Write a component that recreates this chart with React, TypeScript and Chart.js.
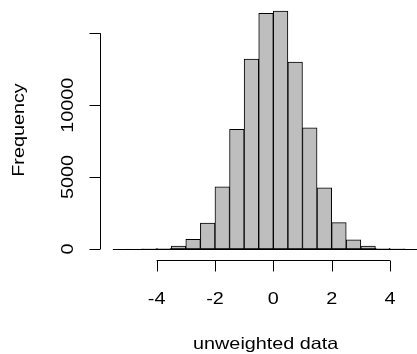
import React, { useEffect, useRef } from "react";
import { Chart, registerables } from "chart.js";

Chart.register(...registerables);

// Histogram bins (left edges, width 0.5) and counts
const binStarts = [-5.5, -5, -4.5, -4, -3.5, -3, -2.5, -2, -1.5, -1, -0.5, 0, 0.5, 1, 1.5, 2, 2.5, 3, 3.5, 4, 4.5];
const binWidth = 0.5;
const counts = [0, 1, 6, 45, 200, 670, 1800, 4320, 8330, 13200, 16390, 16550, 13000, 8420, 4250, 1830, 640, 200, 50, 6, 1];
const xTicks = [-4, -2, 0, 2, 4];
const yTicks = [0, 5000, 10000, 15000];
const yTickLabels = ["0", "5000", "10000", ""];
const xTitle = "unweighted data";
const yTitle = "Frequency";

const FONT = "16.5px 'Liberation Sans'";
const STRETCH = 1.2;

function drawText(ctx: any, text: string, x: number, y: number, rotated: boolean) {
  ctx.save();
  ctx.translate(x, y);
  if (rotated) ctx.rotate(-Math.PI / 2);
  ctx.scale(STRETCH, 1);
  ctx.fillText(text, 0, 0);
  ctx.restore();
}

const axesPlugin = {
  id: "rAxes",
  afterDraw(chart: any) {
    const ctx = chart.ctx;
    const xs = chart.scales.x;
    const ys = chart.scales.y;
    ctx.save();
    ctx.strokeStyle = "#000";
    ctx.fillStyle = "#000";
    ctx.lineWidth = 1;

    // baseline of histogram (zero-height bins)
    const y0 = Math.round(ys.getPixelForValue(0)) + 0.5;
    ctx.beginPath();
    ctx.moveTo(xs.getPixelForValue(binStarts[0]), y0);
    ctx.lineTo(xs.getPixelForValue(binStarts[binStarts.length - 1] + binWidth), y0);
    ctx.stroke();

    // x axis
    const axY = 260.5;
    ctx.beginPath();
    ctx.moveTo(xs.getPixelForValue(xTicks[0]), axY);
    ctx.lineTo(xs.getPixelForValue(xTicks[xTicks.length - 1]), axY);
    xTicks.forEach((t) => {
      const px = Math.round(xs.getPixelForValue(t)) + 0.5;
      ctx.moveTo(px, axY);
      ctx.lineTo(px, axY + 11);
    });
    ctx.stroke();
    ctx.font = FONT;
    ctx.textAlign = "center";
    ctx.textBaseline = "alphabetic";
    xTicks.forEach((t) => {
      drawText(ctx, String(t), xs.getPixelForValue(t), 303.5, false);
    });
    const xCenter = (chart.chartArea.left + xs.getPixelForValue(5.42)) / 2;
    drawText(ctx, xTitle, xCenter, 349, false);

    // y axis
    const axX = 100.5;
    ctx.beginPath();
    ctx.moveTo(axX, ys.getPixelForValue(yTicks[0]));
    ctx.lineTo(axX, ys.getPixelForValue(yTicks[yTicks.length - 1]));
    yTicks.forEach((t) => {
      const py = Math.round(ys.getPixelForValue(t)) + 0.5;
      ctx.moveTo(axX, py);
      ctx.lineTo(axX - 11, py);
    });
    ctx.stroke();
    yTicks.forEach((t, i) => {
      drawText(ctx, yTickLabels[i], 72.5, ys.getPixelForValue(t), true);
    });
    drawText(ctx, yTitle, 23.5, 130, true);
    ctx.restore();
  },
};

export default function App() {
  const ref = useRef<HTMLCanvasElement>(null);
  useEffect(() => {
    if (!ref.current) return;
    const chart = new Chart(ref.current, {
      type: "bar",
      data: {
        datasets: [
          {
            data: binStarts.map((s, i) => ({ x: s + binWidth / 2, y: counts[i] })),
            backgroundColor: "#bebebe",
            borderColor: "#000",
            borderWidth: 1,
            borderSkipped: false,
            barPercentage: 1,
            categoryPercentage: 1,
          },
        ],
      },
      options: {
        animation: false,
        responsive: false,
        layout: { padding: { left: 100, right: 0, top: 0, bottom: 94 } },
        plugins: { legend: { display: false }, tooltip: { enabled: false } },
        scales: {
          x: { type: "linear", display: false, min: -5.941, max: 4.926, offset: false },
          y: { type: "linear", display: false, min: -765, max: 17316 },
        },
      },
      plugins: [axesPlugin],
    });
    return () => chart.destroy();
  }, []);
  return (
    <div style={{ position: "fixed", left: 0, top: 0, width: 417, height: 354, background: "#fff" }}>
      <canvas ref={ref} width={417} height={354} style={{ width: 417, height: 354, display: "block" }} />
    </div>
  );
}
